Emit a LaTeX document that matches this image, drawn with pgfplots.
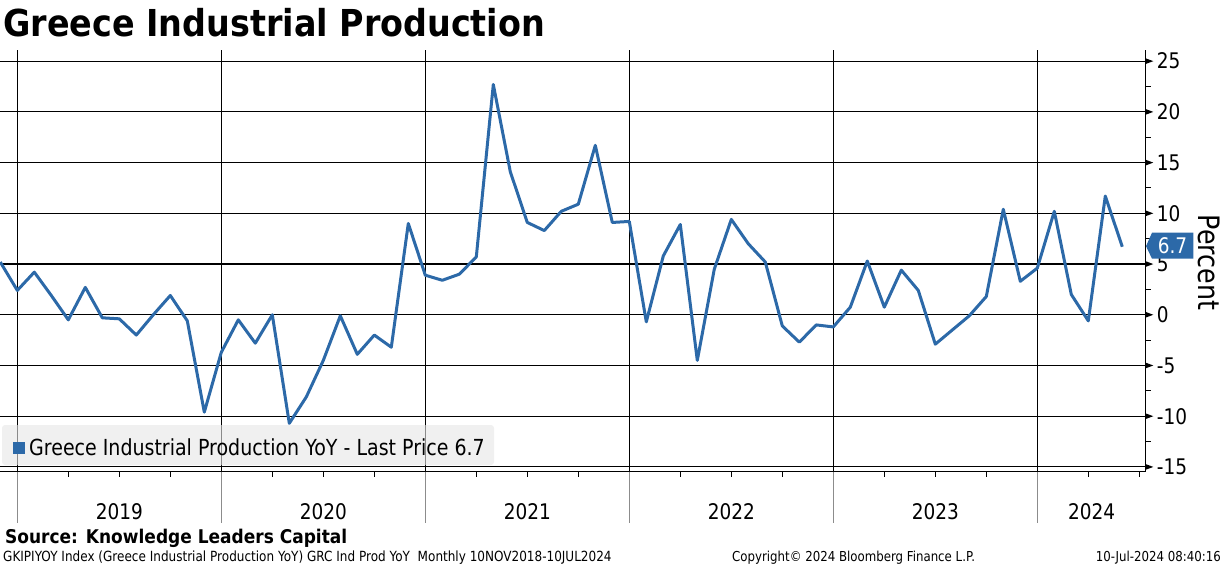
\documentclass[border=0pt]{standalone}
\usepackage{fontspec}
\usepackage{pgfplots}
\pgfplotsset{compat=1.18}
\setmainfont[FakeStretch=0.86]{DejaVu Sans}
\newfontfamily\titlefont[FakeStretch=0.9]{DejaVu Sans Bold}
\definecolor{bbblue}{RGB}{44,105,168}
\definecolor{legfill}{RGB}{230,230,230}
\newcommand{\fs}[1]{\fontsize{#1}{#1}\selectfont}

\pgfplotstableread{
x y
-1 5.2
0 2.4
1 4.2
2 1.9
3 -0.5
4 2.7
5 -0.3
6 -0.4
7 -2.0
8 0.0
9 1.9
10 -0.6
11 -9.6
12 -3.7
13 -0.5
14 -2.8
15 0.0
16 -10.7
17 -8.1
18 -4.5
19 -0.1
20 -3.9
21 -2.0
22 -3.2
23 9.0
24 3.9
25 3.4
26 4.0
27 5.7
28 22.7
29 14.1
30 9.1
31 8.3
32 10.2
33 10.9
34 16.7
35 9.1
36 9.2
37 -0.7
38 5.8
39 8.9
40 -4.5
41 4.5
42 9.4
43 7.0
44 5.2
45 -1.1
46 -2.7
47 -1.0
48 -1.2
49 0.75
50 5.3
51 0.75
52 4.4
53 2.4
54 -2.9
55 -1.5
56 -0.1
57 1.8
58 10.4
59 3.3
60 4.6
61 10.2
62 2.0
63 -0.6
64 11.7
65 6.7
}\ipdata

\begin{document}
\begin{tikzpicture}[x=1pt,y=1pt]
\useasboundingbox (0,0) rectangle (1224,566);
\begin{axis}[
    at={(0pt,94.3pt)}, anchor=south west,
    scale only axis, width=1145.7pt, height=421.7pt,
    xmin=-1.018, xmax=66.38, ymin=-15.47, ymax=26.1,
    axis x line*=bottom, axis y line*=right,
    axis line style={-, line width=1.2pt, black},
    xtick={0,12,24,36,48,60}, xticklabels={},
    minor xtick={3,6,9,15,18,21,27,30,33,39,42,45,51,54,57,63,66},
    ytick={-15,-10,...,25},
    yticklabels={-15,-10,-5,0,5,10,15,20,25},
    minor ytick={-12.5,-7.5,...,22.5},
    major tick length=0pt, minor tick length=5pt, tick align=outside,
    minor tick style={line width=1pt, black},
    xmajorgrids, ymajorgrids,
    grid style={black, line width=1.1pt},
    yticklabel style={anchor=west, inner sep=0pt, xshift=11pt, font=\fs{21.5}},
    clip=false,
]
\addplot[bbblue, line width=3pt, line join=round] table[x=x,y=y] {\ipdata};
\pgfplotsinvokeforeach{-15,-10,...,25}{
  \fill ([yshift=2.8pt]axis cs:66.38,#1) -- ([xshift=7.5pt]axis cs:66.38,#1) -- ([yshift=-2.8pt]axis cs:66.38,#1) -- cycle;
}
\pgfplotsinvokeforeach{0,12,24,36,48,60}{
  \draw[gray!90, line width=1.2pt] (axis cs:#1,-15.47) -- ([yshift=-51.3pt]axis cs:#1,-15.47);
}
\node[font=\fs{21.5}] at ([yshift=-39.5pt]axis cs:6,-15.47) {2019};
\node[font=\fs{21.5}] at ([yshift=-39.5pt]axis cs:18,-15.47) {2020};
\node[font=\fs{21.5}] at ([yshift=-39.5pt]axis cs:30,-15.47) {2021};
\node[font=\fs{21.5}] at ([yshift=-39.5pt]axis cs:42,-15.47) {2022};
\node[font=\fs{21.5}] at ([yshift=-39.5pt]axis cs:54,-15.47) {2023};
\node[font=\fs{21.5}] at ([yshift=-39.5pt]axis cs:63.19,-15.47) {2024};
\end{axis}

% legend
\fill[legfill, fill opacity=0.6, rounded corners=3pt] (2,101) rectangle (494,141);
\fill[bbblue] (12.7,111.7) rectangle (25,124.3);
\node[anchor=base west, inner sep=0pt, font=\fs{22.1}] at (29,110.8)
  {Greece Industrial Production YoY - Last Price 6.7};

% last price tag
\fill[bbblue] (1146,319.8) -- (1152,333.3) -- (1193.3,333.3) -- (1193.3,307.3) -- (1152,307.3) -- cycle;
\node[text=white, font=\fs{21.5}, inner sep=0pt] at (1172.5,320.3) {6.7};

% axis title
\node[rotate=-90, font=\fs{29.5}, inner sep=0pt] at (1209.5,303.5) {Percent};

% titles and footer
\node[anchor=base west, inner sep=0pt, font=\titlefont\fs{37.1}] at (3,529) {Greece Industrial Production};
\node[anchor=base west, inner sep=0pt, font=\titlefont\fs{18.9}] at (5,23) {Source: Knowledge Leaders Capital};
\node[anchor=base west, inner sep=0pt, font=\fs{14}] at (3,5) {GKIPIYOY Index (Greece Industrial Production YoY) GRC Ind Prod YoY\ \ Monthly 10NOV2018-10JUL2024};
\node[anchor=base west, inner sep=0pt, font=\fs{13.7}] at (732,5) {Copyright© 2024 Bloomberg Finance L.P.};
\node[anchor=base east, inner sep=0pt, font=\fs{13.7}] at (1221,5) {10-Jul-2024 08:40:16};
\end{tikzpicture}
\end{document}
